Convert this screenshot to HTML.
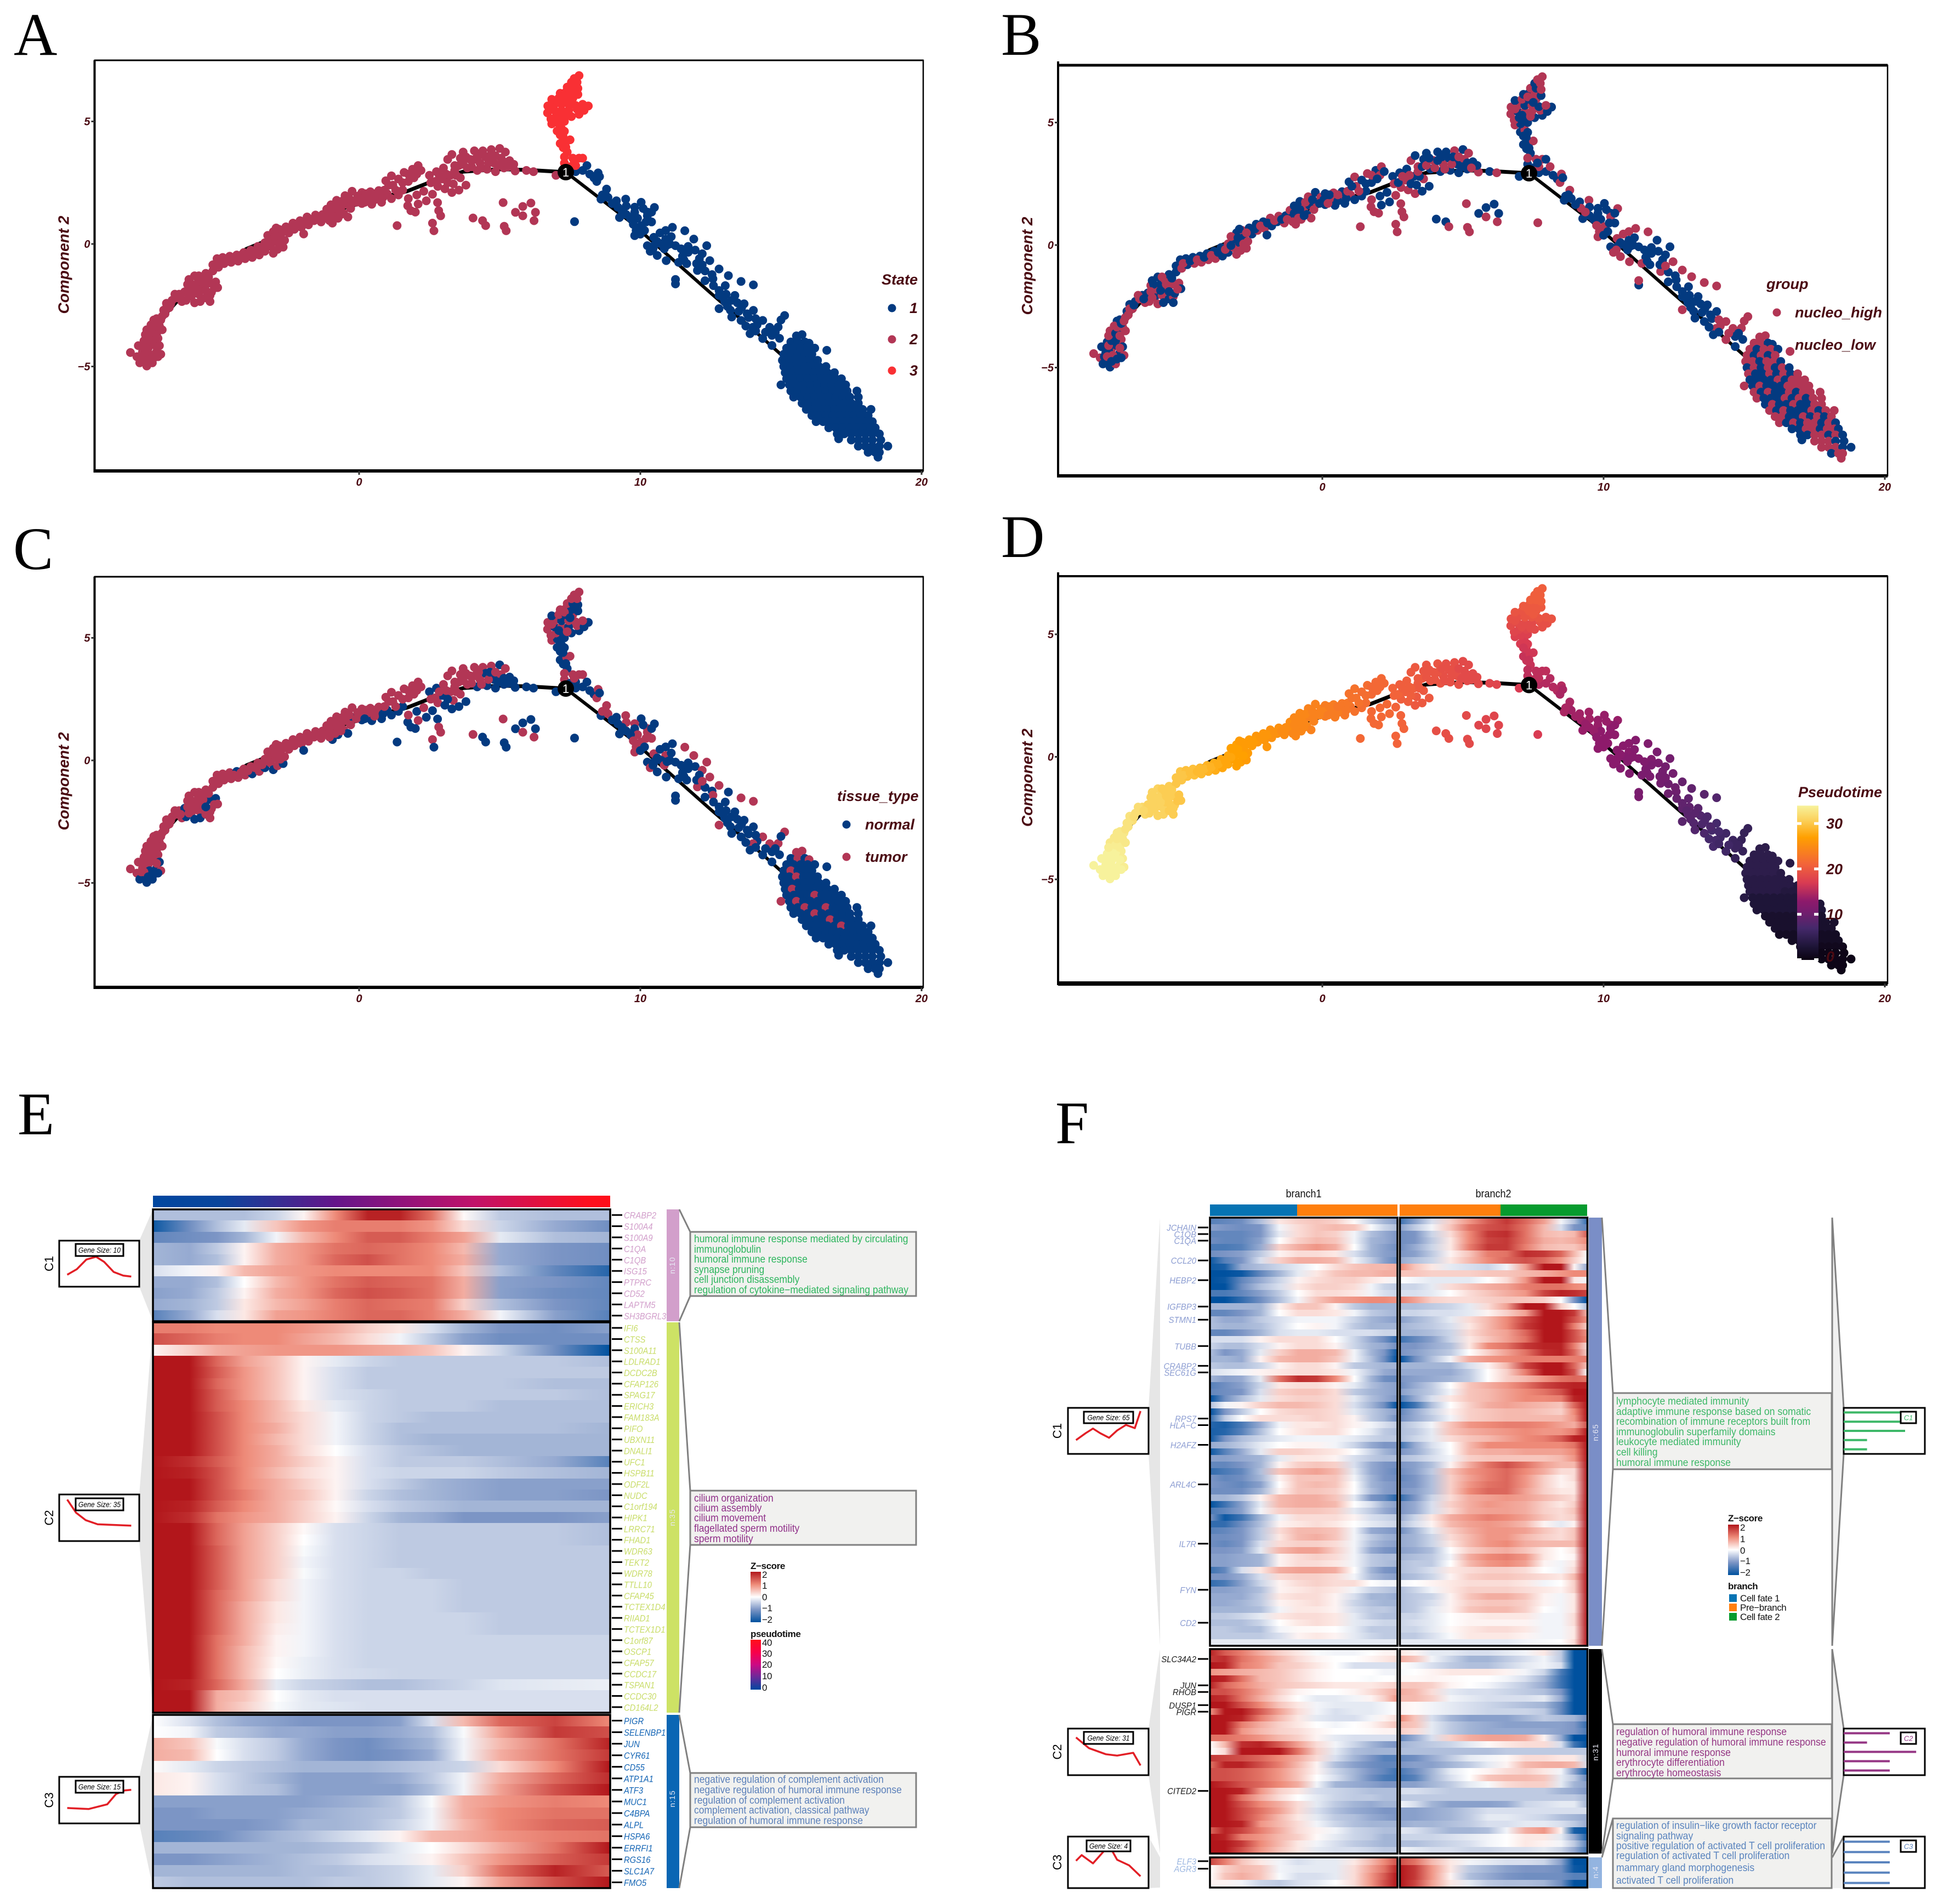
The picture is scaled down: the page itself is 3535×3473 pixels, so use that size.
<!DOCTYPE html>
<html lang="en">
<head>
<meta charset="utf-8">
<title>Trajectory and heatmap figure</title>
<style>
html,body{margin:0;padding:0;background:#fff}
svg{display:block}
text{font-family:"Liberation Sans",sans-serif}
.letter{font-family:"Liberation Serif",serif;font-size:110px;fill:#000}
.axt{font-weight:bold;font-style:italic;font-size:28px;fill:#4a0a12;text-anchor:middle}
.leg{font-weight:bold;font-style:italic;font-size:27px;fill:#4a0a12}
.ann{font-size:19px}
.small{font-size:17px;fill:#111;letter-spacing:-.4px}
.smallb{font-size:17px;fill:#111;font-weight:bold;letter-spacing:-.4px}
.nlab{font-size:14px;fill:#e8e8f4;text-anchor:middle;letter-spacing:1px}
.gray{fill:none;stroke:#808080;stroke-width:3}
.box{fill:#f1f1ef;stroke:#808080;stroke-width:3}
</style>
</head>
<body>
<svg id="figure" xmlns="http://www.w3.org/2000/svg" width="3535" height="3473" viewBox="0 0 3535 3473">
<defs>
<linearGradient id="pseudoTop" x1="0" x2="1" y1="0" y2="0"><stop offset="0" stop-color="#0047a0"/><stop offset=".15" stop-color="#0a459c"/><stop offset=".4" stop-color="#65148a"/><stop offset=".7" stop-color="#c0126a"/><stop offset=".95" stop-color="#fd0f1e"/><stop offset="1" stop-color="#ff0f1a"/></linearGradient>
<linearGradient id="pseudoVert" x1="0" x2="0" y1="0" y2="1"><stop offset="0" stop-color="#ff0f1a"/><stop offset=".25" stop-color="#f8004a"/><stop offset=".5" stop-color="#cc0a84"/><stop offset=".75" stop-color="#6a2a9a"/><stop offset="1" stop-color="#0047a0"/></linearGradient>
<linearGradient id="zVert" x1="0" x2="0" y1="0" y2="1"><stop offset="0" stop-color="#b2161b"/><stop offset=".25" stop-color="#ee8a78"/><stop offset=".5" stop-color="#ffffff"/><stop offset=".75" stop-color="#7c95c5"/><stop offset="1" stop-color="#00519f"/></linearGradient>
</defs>
<rect width="3535" height="3473" fill="#fff"/>

<text class="letter" x="25" y="100">A</text>
<text class="letter" x="1826" y="100">B</text>
<text class="letter" x="24" y="1038">C</text>
<text class="letter" x="1826" y="1016">D</text>
<text class="letter" x="32" y="2069">E</text>
<text class="letter" x="1925" y="2085">F</text>

<g id="scatterLayer"></g>

<g>
<text class="leg" x="1608" y="519">State</text>
<circle cx="1627" cy="562" r="7.5" fill="#033a80"/><text class="leg" x="1659" y="571">1</text>
<circle cx="1627" cy="619" r="7.5" fill="#b23655"/><text class="leg" x="1659" y="628">2</text>
<circle cx="1627" cy="676" r="7.5" fill="#f93034"/><text class="leg" x="1659" y="685">3</text>
</g>
<g>
<text class="leg" x="3222" y="527">group</text>
<circle cx="3241" cy="570" r="7.5" fill="#b23655"/><text class="leg" x="3274" y="579">nucleo_high</text>
<text class="leg" x="3274" y="638">nucleo_low</text>
</g>
<g>
<text class="leg" x="1527" y="1461">tissue_type</text>
<circle cx="1544" cy="1504" r="7.5" fill="#033a80"/><text class="leg" x="1578" y="1513">normal</text>
<circle cx="1544" cy="1563" r="7.5" fill="#b23655"/><text class="leg" x="1578" y="1572">tumor</text>
</g>
<g id="pseudoLegend">
<text class="leg" x="3280" y="1454">Pseudotime</text>
</g>

<g id="heatE">
<rect x="279" y="2181" width="834" height="21" fill="url(#pseudoTop)"/>
<polygon points="254,2263 279,2206 279,2410 254,2347" fill="#e6e6e6"/>
<polygon points="254,2726 279,2412 279,3124 254,2811" fill="#e6e6e6"/>
<polygon points="254,3241 279,3128 279,3444 254,3326" fill="#e6e6e6"/>
<rect x="1216" y="2206" width="23" height="204" fill="#d29fcb"/>
<rect x="1216" y="2412" width="23" height="712" fill="#cde265"/>
<rect x="1216" y="3128" width="23" height="316" fill="#0a66b4"/>
<text class="nlab" transform="translate(1231,2308) rotate(-90)">n:10</text>
<text class="nlab" transform="translate(1231,2768) rotate(-90)">n:35</text>
<text class="nlab" transform="translate(1231,3281) rotate(-90)">n:15</text>
<path class="gray" d="M1239,2206L1259,2247M1239,2410L1259,2364"/>
<path class="gray" d="M1239,2412L1259,2719M1239,3124L1259,2818"/>
<path class="gray" d="M1239,3128L1259,3234M1239,3444L1259,3333"/>
<rect class="box" x="1259" y="2247" width="412" height="117"/>
<rect class="box" x="1259" y="2719" width="412" height="99"/>
<rect class="box" x="1259" y="3234" width="412" height="99"/>
<g class="ann" fill="#2db55d">
<text transform="translate(1266,2266) scale(.92,1)">humoral immune response mediated by circulating</text>
<text transform="translate(1266,2285) scale(.92,1)">immunoglobulin</text>
<text transform="translate(1266,2303) scale(.92,1)">humoral immune response</text>
<text transform="translate(1266,2322) scale(.92,1)">synapse pruning</text>
<text transform="translate(1266,2340) scale(.92,1)">cell junction disassembly</text>
<text transform="translate(1266,2359) scale(.92,1)">regulation of cytokine−mediated signaling pathway</text>
</g>
<g class="ann" fill="#8f2f88">
<text transform="translate(1266,2739) scale(.92,1)">cilium organization</text>
<text transform="translate(1266,2757) scale(.92,1)">cilium assembly</text>
<text transform="translate(1266,2775) scale(.92,1)">cilium movement</text>
<text transform="translate(1266,2794) scale(.92,1)">flagellated sperm motility</text>
<text transform="translate(1266,2813) scale(.92,1)">sperm motility</text>
</g>
<g class="ann" fill="#5b80ba">
<text transform="translate(1266,3252) scale(.92,1)">negative regulation of complement activation</text>
<text transform="translate(1266,3271) scale(.92,1)">negative regulation of humoral immune response</text>
<text transform="translate(1266,3290) scale(.92,1)">regulation of complement activation</text>
<text transform="translate(1266,3308) scale(.92,1)">complement activation, classical pathway</text>
<text transform="translate(1266,3327) scale(.92,1)">regulation of humoral immune response</text>
</g>
<g>
<text class="smallb" x="1369" y="2862">Z−score</text>
<rect x="1369" y="2867" width="19" height="92" fill="url(#zVert)"/>
<text class="small" x="1390" y="2878">2</text>
<text class="small" x="1390" y="2898">1</text>
<text class="small" x="1390" y="2919">0</text>
<text class="small" x="1390" y="2939">−1</text>
<text class="small" x="1390" y="2960">−2</text>
<text class="smallb" x="1369" y="2986">pseudotime</text>
<rect x="1369" y="2991" width="19" height="91" fill="url(#pseudoVert)"/>
<text class="small" x="1390" y="3002">40</text>
<text class="small" x="1390" y="3022">30</text>
<text class="small" x="1390" y="3042">20</text>
<text class="small" x="1390" y="3063">10</text>
<text class="small" x="1390" y="3084">0</text>
</g>
</g>

<g id="heatF">
<text transform="translate(2378,2184) scale(.9,1)" font-size="20" fill="#111" text-anchor="middle">branch1</text>
<text transform="translate(2724,2184) scale(.9,1)" font-size="20" fill="#111" text-anchor="middle">branch2</text>
<rect x="2207" y="2197" width="159" height="21" fill="#0673b3"/>
<rect x="2366" y="2197" width="183" height="21" fill="#ff7f0e"/>
<rect x="2553" y="2197" width="184" height="21" fill="#ff7f0e"/>
<rect x="2737" y="2197" width="158" height="21" fill="#079b2e"/>
<polygon points="2095,2568 2116,2221 2116,3002 2095,2652" fill="#e6e6e6"/>
<polygon points="2095,3153 2116,3008 2116,3381 2095,3238" fill="#e6e6e6"/>
<polygon points="2095,3350 2116,3388 2116,3443 2095,3444" fill="#e6e6e6"/>
<rect x="2898" y="2221" width="24" height="781" fill="#7a8ec7"/>
<rect x="2898" y="3008" width="24" height="373" fill="#000"/>
<rect x="2898" y="3388" width="24" height="56" fill="#93b4e0"/>
<text class="nlab" transform="translate(2915,2613) rotate(-90)">n:65</text>
<text class="nlab" transform="translate(2915,3196) rotate(-90)">n:31</text>
<text class="nlab" transform="translate(2915,3415) rotate(-90)">n:4</text>
<polygon points="3342,2221 3363,2568 3363,2652 3342,3002" fill="#f0f0f0"/>
<polygon points="3342,3008 3363,3153 3363,3238 3342,3381" fill="#f0f0f0"/>
<polygon points="3342,3388 3363,3350 3363,3444 3342,3444" fill="#f0f0f0"/>
<path class="gray" d="M2922,2221L2942,2541M2922,3002L2942,2680M3342,2221L3342,3002M3342,2221L3363,2568M3342,3002L3363,2652"/>
<path class="gray" d="M2922,3008L2942,3145M2922,3381L2942,3244M3342,3008L3342,3381M3342,3008L3363,3153M3342,3381L3363,3238"/>
<path class="gray" d="M2922,3388L2942,3317M3342,3388L3363,3350"/>
<rect class="box" x="2942" y="2541" width="399" height="139"/>
<rect class="box" x="2942" y="3145" width="399" height="99"/>
<rect class="box" x="2942" y="3317" width="399" height="127"/>
<g class="ann" fill="#3db868">
<text transform="translate(2948,2562) scale(.93,1)">lymphocyte mediated immunity</text>
<text transform="translate(2948,2581) scale(.93,1)">adaptive immune response based on somatic</text>
<text transform="translate(2948,2599) scale(.93,1)">recombination of immune receptors built from</text>
<text transform="translate(2948,2618) scale(.93,1)">immunoglobulin superfamily domains</text>
<text transform="translate(2948,2636) scale(.93,1)">leukocyte mediated immunity</text>
<text transform="translate(2948,2655) scale(.93,1)">cell killing</text>
<text transform="translate(2948,2674) scale(.93,1)">humoral immune response</text>
</g>
<g class="ann" fill="#953684">
<text transform="translate(2948,3165) scale(.93,1)">regulation of humoral immune response</text>
<text transform="translate(2948,3184) scale(.93,1)">negative regulation of humoral immune response</text>
<text transform="translate(2948,3203) scale(.93,1)">humoral immune response</text>
<text transform="translate(2948,3221) scale(.93,1)">erythrocyte differentiation</text>
<text transform="translate(2948,3240) scale(.93,1)">erythrocyte homeostasis</text>
</g>
<g class="ann" fill="#5a84be">
<text transform="translate(2948,3336) scale(.93,1)">regulation of insulin−like growth factor receptor</text>
<text transform="translate(2948,3355) scale(.93,1)">signaling pathway</text>
<text transform="translate(2948,3373) scale(.93,1)">positive regulation of activated T cell proliferation</text>
<text transform="translate(2948,3391) scale(.93,1)">regulation of activated T cell proliferation</text>
<text transform="translate(2948,3413) scale(.93,1)">mammary gland morphogenesis</text>
<text transform="translate(2948,3436) scale(.93,1)">activated T cell proliferation</text>
</g>
<g>
<text class="smallb" x="3152" y="2775">Z−score</text>
<rect x="3152" y="2781" width="20" height="92" fill="url(#zVert)"/>
<text class="small" x="3174" y="2792">2</text>
<text class="small" x="3174" y="2813">1</text>
<text class="small" x="3174" y="2834">0</text>
<text class="small" x="3174" y="2853">−1</text>
<text class="small" x="3174" y="2874">−2</text>
<text class="smallb" x="3152" y="2899">branch</text>
<rect x="3154" y="2908" width="14" height="14" fill="#0673b3"/>
<text class="small" x="3174" y="2921">Cell fate 1</text>
<rect x="3154" y="2925" width="14" height="14" fill="#ff7f0e"/>
<text class="small" x="3174" y="2938">Pre−branch</text>
<rect x="3154" y="2942" width="14" height="14" fill="#079b2e"/>
<text class="small" x="3174" y="2955">Cell fate 2</text>
</g>
</g>
<g id="miniLayer"></g>
</svg>

<script>
/* ---------- trajectory data: [component1, component2, pseudotime, group(0 high,1 low), tissue(0 normal,1 tumor)] ---------- */
const state2Cells = [
[-8.13,-4.43,34,0,1],[-7.9,-4.6,34,0,1],[-7.85,-4.15,34,1,1],[-7.8,-4.85,34,1,0],[-7.7,-4.4,34,1,1],[-7.65,-3.95,34,1,1],[-7.6,-4.7,34,1,0],[-7.55,-4.98,34,1,0],[-7.5,-4.25,34,0,1],[-7.45,-3.7,33.5,0,1],[-7.4,-4.55,34,1,0],[-7.35,-4.85,34,0,0],[-7.3,-4.1,34,1,1],[-7.25,-3.5,33.5,1,1],[-7.2,-4.4,34,1,0],[-7.15,-3.85,33.5,0,1],[-7.1,-4.15,33.5,1,0],[-7.05,-4.5,33.5,0,1],[-7.1,-3.35,33,0,1],[-7.3,-3.1,33,1,1],[-7.55,-3.5,33,0,1],[-7.4,-3.3,33,0,1],[-7.2,-3.05,33,1,1],
[-7.75,-4.55,34,1,1],[-7.6,-4.3,34,1,1],[-7.45,-4.5,34,0,0],[-7.45,-4.05,34,1,1],[-7.6,-4.1,34,0,1],[-7.35,-3.9,34,1,1],[-7.5,-3.9,34,1,1],[-7.3,-4.65,34,1,0],[-7.15,-4.6,34,1,0],[-7.6,-3.7,33.5,0,1],[-7.35,-3.6,33.5,1,1],[-7.2,-3.7,33.5,0,1],[-7.3,-3.35,33,0,1],[-7.15,-3.2,33,1,1],[-7.05,-3.1,33,0,1],[-7,-3.5,33,0,1],[-7.65,-4.55,34,0,1],[-7.5,-4.75,34,1,0],[-7.2,-4.2,34,0,1],
[-7.0,-2.95,32.5,0,1],[-6.95,-2.7,32.5,1,1],[-6.85,-2.42,32.5,1,1],[-6.75,-2.6,32,0,1],[-6.65,-2.3,32,1,1],[-6.5,-2.2,32,0,1],[-6.4,-2.05,31.5,1,1],[-6.3,-2.35,31.5,0,1],[-6.2,-1.95,31,1,0],[-6.15,-2.3,31,0,0],[-6.1,-1.65,31,0,1],[-6.05,-1.45,31,1,1],[-5.95,-2.1,31,1,1],[-5.9,-1.8,31,0,1],[-5.85,-2.4,31,0,0],[-5.85,-1.3,31,1,1],[-5.75,-1.6,31,1,1],[-5.7,-2.05,31,0,1],[-5.65,-2.35,31,1,0],[-5.6,-1.4,30.5,0,1],[-5.55,-1.85,30.5,0,1],[-5.45,-2.2,30.5,1,1],[-5.45,-1.2,30.5,1,1],[-5.35,-1.6,30.5,0,0],[-5.3,-2.1,30.5,0,1],[-5.3,-2.35,30.5,1,1],[-5.25,-1.97,30.5,1,1],[-5.2,-1.1,30,1,1],[-5.1,-1.55,30,0,0],[-5.03,-1.78,30,1,1],[-5.2,-.85,30,1,1],
[-6.9,-2.85,32.5,0,1],[-6.85,-2.6,32.5,0,1],[-6.7,-2.45,32,1,1],[-6.55,-2.05,32,0,1],[-6.35,-2.2,31.5,1,1],[-6.05,-2.15,31,0,1],[-6,-1.6,31,1,1],[-6.1,-1.9,31,0,1],[-5.75,-1.85,31,1,1],[-5.55,-1.6,30.5,0,1],[-5.45,-1.9,30.5,1,0],[-5.7,-1.3,30.5,0,1],[-5.35,-1.35,30.5,1,1],[-5.15,-1.8,30,0,1],
[-5.05,-.6,30,1,1],[-5.0,-.95,30,0,1],[-4.85,-.55,29.5,1,1],[-4.8,-.8,29.5,1,1],[-4.6,-.5,29.5,1,1],[-4.55,-.75,29.5,0,1],[-4.35,-.45,29,1,0],[-4.3,-.7,29,0,1],[-4.1,-.35,28.5,1,1],[-4.05,-.6,28.5,0,1],[-3.85,-.25,28,1,1],[-3.8,-.55,28,0,0],[-3.6,-.1,27.5,1,1],[-3.55,-.45,27.5,1,1],[-3.35,.05,27.5,0,1],[-3.35,-.3,27.5,1,0],[-3.15,.2,27,1,1],[-3.15,-.1,27,0,1],[-3.05,-.38,27,0,0],[-3.05,.5,27,1,1],[-2.95,.1,27,1,1],[-2.9,-.22,27,0,1],[-2.85,.6,26.5,0,1],[-2.8,.3,26.5,1,1],[-2.7,-.13,26.5,0,0],[-2.65,.15,26.5,0,1],[-2.6,.7,26.5,1,1],[-2.5,.45,26.5,1,1],[-2.35,.85,26,1,1],[-2.3,.6,26,0,1],[-2.1,.95,26,1,1],[-2.05,.68,26,0,1],[-1.97,.41,26,1,0],[-1.85,1.1,25.5,0,1],[-1.8,.78,25.5,1,1],[-1.6,.95,25.5,1,1],[-1.55,1.18,25.5,0,1],[-1.35,.9,25,0,1],[-1.3,1.2,25,1,1],[-1.15,1.42,25,0,1],[-1.1,1.1,25,1,1],[-1,1.6,24.5,1,1],[-.95,.85,24.5,0,0],[-.9,1.3,24.5,0,1],[-.8,1.78,24.5,1,1],[-.75,1.05,24.5,0,0],[-.65,1.5,24.5,0,1],[-.55,1.25,24.5,1,1],[-.5,1.97,24,0,1],[-.45,1.62,24,1,1],[-.4,1.1,24,0,0],[-.25,2.15,24,1,1],[-.2,1.75,24,0,0],[-.05,1.95,24,0,1],[.1,2.1,23.5,1,1],[.1,1.65,23.5,1,0],[.3,1.85,23.5,0,1],[.4,2.13,23.5,0,1],[.45,1.62,23.5,1,0],[.65,1.95,23,0,1],[.7,2.18,23,1,1],[.8,1.7,23,1,0],[.95,2.58,22.5,1,1],[1,2.05,22.5,0,0],[1.15,2.78,22.5,0,1],[1.15,1.85,22.5,1,0],[1.2,2.4,22.5,0,1],[1.4,2.65,22,1,1],[1.4,2.0,22,1,0],[1.6,2.92,22,0,1],[1.55,2.2,22,1,0],[1.75,2.55,21.5,1,1],[1.9,3.05,21.5,1,1],[2.05,2.85,21.5,0,1],[2.1,3.2,21.5,0,1],
[-4.95,-.75,30,0,1],[-4.7,-.65,29.5,1,1],[-4.45,-.6,29,0,1],[-4.2,-.5,29,1,1],[-3.95,-.42,28.5,0,1],[-3.7,-.3,28,1,1],[-3.45,-.18,27.5,0,1],[-3.25,-.02,27.5,1,1],[-3.25,.35,27,0,1],[-3,.3,27,1,1],[-2.8,.05,27,0,1],[-2.95,.65,26.5,1,1],[-2.7,.5,26.5,0,1],[-2.4,.65,26.5,1,1],[-2.2,.78,26,0,1],[-1.95,.9,26,1,1],[-1.7,1,25.5,0,1],[-1.45,1.05,25,1,1],[-1.25,1.05,25,0,1],[-1,1.3,24.5,1,1],[-1.05,.95,24.5,0,1],[-.8,1.45,24.5,1,1],[-.85,1.1,24.5,0,1],[-.6,1.75,24.5,0,1],[-.65,1.2,24.5,1,1],[-.35,1.85,24,1,1],[-.3,1.45,24,0,1],[-.1,1.7,24,1,1],[.05,1.85,24,1,1],[.2,1.7,23.5,0,0],[.25,2.05,23.5,1,1],[.55,1.8,23.5,1,1],[.55,2.05,23,0,1],[.85,1.9,23,1,0],[.9,2.2,23,0,1],[1.05,2.4,22.5,1,1],[1.3,2.2,22.5,0,1],[1.55,2.5,22,1,1],[1.75,2.85,21.5,0,1],[1.95,2.7,21.5,1,1],[2.2,3,21.5,1,1],
[1.84,1.36,21.5,0,0],[1.73,1.56,21.5,0,0],[2.1,1.63,21.5,1,1],[2.39,1.76,21.5,1,0],[2.61,2.03,21,0,0],[1.75,1.85,21.5,0,1],[2.05,2.0,21.5,1,0],[2.3,2.15,21.5,1,1],[2.0,1.3,21.5,0,0],[2.79,1.69,21,0,0],[2.83,1.36,21,0,1],[2.9,1.15,21,0,1],[2.61,.85,21,0,1],[2.66,.54,21,0,0],[1.35,.75,21.5,0,0],
[2.5,2.8,21,1,0],[2.55,2.5,21,0,1],[2.75,2.95,20.5,1,0],[2.8,2.35,20.5,0,1],[2.95,2.65,20.5,0,0],[3.0,3.1,20.5,1,1],[3.05,2.25,20.5,0,0],[3.25,2.8,20.5,1,1],[3.3,2.1,20,0,0],[3.35,2.45,20,1,1],[3.55,2.2,20,1,0],[3.6,2.7,20,0,1],[3.8,2.4,20,1,0],[3.15,3.45,20,0,1],[3.3,3.65,20,1,1],[3.4,3.2,20,0,1],[3.6,3.5,19.5,1,1],[3.7,3.75,19.5,1,1],[3.85,3.1,19.5,1,1],[3.95,3.45,19.5,0,1],[4.1,3.8,19.5,1,1],[4.2,3.0,19.5,1,0],[4.3,3.3,19,0,1],[4.4,3.8,19,1,1],[4.5,3.55,19,1,0],[4.55,3.05,19,1,0],[4.7,3.85,19,0,1],[4.8,3.3,19,1,0],[4.85,2.95,19,1,0],[5.0,3.9,18.5,1,0],[5.05,3.5,18.5,0,1],[5.15,3.1,18.5,1,0],[5.2,3.75,18.5,0,1],[5.35,3.4,18.5,1,0],[5.45,3.15,18.5,1,0],[5.55,2.98,18.5,0,0],[5.5,3.25,18.5,1,0],[5.95,3.0,18,1,0],[6.2,2.95,18,0,0],
[2.7,2.55,21,1,1],[2.85,2.8,20.5,0,1],[3.15,2.5,20.5,1,0],[3.1,2.85,20.5,0,1],[3.45,2.8,20,1,1],[3.4,3.0,20,0,1],[3.55,3.2,20,1,1],[3.7,3.25,19.5,0,1],[3.8,3.55,19.5,1,1],[4,3.15,19.5,0,1],[4.1,3.45,19.5,1,1],[4.25,3.6,19,1,1],[4.35,3.1,19,0,1],[4.6,3.3,19,0,1],[4.65,3.6,19,1,0],[4.85,3.6,18.5,0,1],[4.95,3.2,18.5,1,0],[5.15,3.35,18.5,1,0],[5.3,3.15,18.5,0,0],
[5.12,1.69,18.5,0,1],[4.39,.95,19,1,0],[4.5,.75,19,0,0],[4.05,1.06,19,1,1],[5.16,.72,18.5,0,0],[5.23,.54,18.5,0,0],[5.56,1.29,18,1,0],[5.82,1.53,18,1,0],[6.11,1.67,18,1,0],[6.27,1.29,18,1,0],[5.82,1.15,18,0,1],[6.22,.95,18,0,1],[7.0,2.8,17,1,0]
];
const state3Cells = [
[7.3,3.3,15.5,1,1],[7.5,3.15,15.5,1,0],[7.7,3.2,15.5,0,0],[7.82,3.5,15.5,0,1],[7.6,3.5,15.5,0,1],[7.95,3.5,15.5,1,1],
[7.26,3.93,16,1,0],[7.15,4.1,16,1,0],[7.38,4.2,16.5,1,1],[7.5,4.25,16.5,0,1],[7.25,4.4,16.5,1,0],[7.04,4.61,17,1,0],[7.2,4.7,17,0,0],[7.3,4.6,17,1,0],[6.85,4.9,17.5,0,1],[7.05,4.95,17.5,1,0],[7.3,5,17.5,1,0],[6.82,5.1,18,0,1],[7.0,5.2,18,1,1],[7.25,5.2,18,1,0],[7.55,5.2,18.5,1,0],[6.7,5.35,18.5,0,1],[6.95,5.45,18.5,1,0],[7.2,5.45,18.5,0,1],[7.45,5.45,18.5,0,0],[7.82,5.29,19,1,0],[7.75,5.5,19,0,1],[8.0,5.45,19,1,0],[6.71,5.63,19,0,1],[6.95,5.7,19,0,1],[7.2,5.7,19.5,1,0],[7.45,5.7,19.5,0,1],[7.7,5.65,19.5,1,1],[8.15,5.63,19.5,1,0],[7.95,5.7,19.5,0,1],[6.85,5.9,19.5,1,0],[7.1,5.95,19.5,0,1],[7.35,5.95,20,1,0],[7.6,5.95,20,0,1],[7.15,6.15,20,1,1],[7.35,6.2,20,1,1],[7.55,6.15,20,0,0],[7.78,6.1,20,1,0],[7.4,6.4,20.5,0,1],[7.6,6.4,20.5,1,0],[7.78,6.35,20.5,0,0],[7.55,6.6,20.5,1,1],[7.75,6.6,20.5,0,1],[7.82,6.87,20.5,0,1],
[7.65,6.75,20.5,0,1],[7.3,6.05,20,0,1],[7.5,5.82,20,1,0],[6.85,5.55,19,0,1],[7.1,5.3,18.5,1,0],[7.4,5.25,18.5,0,1],[7.15,4.45,16.5,1,0],[7.35,3.95,16,1,0],[7.4,3.75,16,1,0],[7.3,3.55,15.5,0,1],[7.65,3.35,15.5,1,1]
];
const state1Cells = [
[7.66,.91,17,0,0],[7.7,2.95,15,1,0],[7.95,3.0,15,1,0],[8.1,3.2,15,0,0],[8.2,2.85,15,1,0],[8.35,2.7,15,1,0],[8.5,2.9,15,0,1],[8.45,2.55,14.5,0,1],[8.55,2.75,14.5,1,0],[8.8,2.24,14.5,0,1],[8.75,2.05,14.5,1,1],[8.6,1.83,14.5,1,0],[8.85,1.9,14,1,1],[9.15,1.76,14,1,0],[9.48,1.83,14,0,1],[9.2,1.5,14,0,0],[9.5,1.55,14,1,1],[10.03,1.7,13.5,1,0],[9.8,1.5,13.5,1,1],[10.5,1.49,13.5,0,0],[9.8,1.29,13.5,1,0],[10.25,1.3,13.5,1,1],[9.26,1.08,13.5,1,0],[9.5,1.2,13.5,1,0],[10.25,1.15,13,0,1],[10.4,1.3,13,1,0],[9.9,1.05,13,1,1],[10.03,.75,13,0,1],[10.2,.9,13,1,1],[9.85,.55,13,0,1],[9.8,.34,13,0,1],[10,.4,13,1,0],[10.48,.27,12.5,0,1],[10.7,.45,12.5,0,0],[10.9,.55,12.5,0,0],[11.14,.68,12,0,0],[10.9,.2,12.5,1,1],[11.1,.3,12,1,0],[11.58,.54,11.5,0,1],[10.25,-.07,12.5,1,0],[10.5,-.05,12.5,1,0],[10.75,0,12,1,0],[11.05,.0,12,1,0],[10.35,-.3,12.5,0,1],[10.6,-.47,12,0,0],[10.85,-.2,12,1,1],[11.25,-.07,12,1,0],[11.9,.2,11,1,1],[11.7,-.1,11.5,1,0],[12.36,-.07,10.5,1,1],[11.7,-.34,11,1,0],[11.95,-.25,11,1,0],[11.5,-.5,11,1,0],[11.36,-.75,11,0,0],[10.92,-.68,11.5,0,0],[12.2,-.4,10.5,1,1],[12.47,-.68,10.5,0,1],[11.65,-.8,11,1,0],[12.03,-1.08,10.5,0,1],[12.0,-.8,10.5,1,0],[12.3,-1.1,10,1,0],[12.8,-1.02,9.5,0,1],[12.55,-1.25,10,1,0],[13.13,-1.29,9,0,0],[13.58,-1.53,8.5,0,1],[14.02,-1.67,8,0,1],[11.25,-1.63,11,1,0],[11.25,-1.45,11,0,0],[12.58,-1.42,10,1,1],[13.02,-1.7,9,1,0],[12.3,-1.5,10,1,0],[12.8,-1.9,9,1,0],[12.8,-2.1,9,1,0],[13.05,-2.05,9,1,0],[13.36,-2.1,8.5,1,0],[13,-2.35,8.5,1,0],[12.8,-2.64,8.5,0,1],[13.1,-2.55,8.5,1,0],[13.25,-2.98,8,1,0],[13.45,-2.4,8,1,0],[13.69,-2.44,7.5,1,0],[13.5,-2.75,7.5,1,0],[14.02,-2.71,7,1,0],[13.85,-3.0,7,1,0],[13.58,-3.12,7.5,1,0],[14.35,-3.12,6.5,0,1],[14.15,-3.3,6.5,0,0],[14.0,-3.4,7,0,1],[13.9,-3.66,7,1,0],[14.1,-3.55,6.5,1,0],[14.35,-3.86,6.5,0,0],[14.6,-3.4,6,0,1],[14.9,-3.39,5.5,0,1],[15.13,-2.92,5.5,0,1],[15,-3.1,5.5,0,0],[14.68,-3.73,6,1,0],[14.68,-4.14,5.5,1,0],[14.95,-3.85,5.5,1,0],
[8.65,2.0,14.5,1,1],[9.0,1.65,14,1,0],[9.35,1.35,13.5,0,0],[9.65,1.05,13.5,1,0],[9.75,.8,13,0,1],[10.1,1.45,13.5,1,0],[10.4,.9,13,1,1],[10.15,.55,13,1,0],[10.6,.1,12.5,1,0],[10.45,-.2,12.5,0,0],[10.95,-.05,12,1,0],[11.45,-.2,11.5,1,0],[11.55,-.65,11,1,0],[12.1,-.6,10.5,1,0],[12.2,-.85,10.5,0,1],[12.6,-1.7,9.5,1,0],[12.95,-2.2,8.5,1,0],[13.25,-2.3,8.5,1,0],[13.2,-2.7,8,1,0],[13.6,-2.6,7.5,1,0],[13.8,-2.85,7.5,1,0],[14.1,-3.05,7,0,0],[13.75,-3.35,7,1,0],[14.45,-3.6,6.5,0,0],[14.8,-3.6,6,1,0],
[15.55,-3.75,4.5,0,1],[15.75,-3.7,4.5,0,1],[15.35,-4,4.5,0,0],[15.6,-4,4.5,0,1],[15.85,-4,4.5,1,0],[16,-4.05,4.5,1,1],[15.2,-4.25,4.5,0,0],[15.45,-4.25,4.5,1,0],[15.7,-4.25,4.5,0,0],[15.95,-4.25,4.5,0,0],[16.2,-4.25,4.5,1,0],[15.1,-4.5,4.5,0,0],[15.35,-4.5,4.5,1,1],[15.6,-4.5,4.5,0,0],[15.85,-4.5,4.5,1,0],[16.1,-4.5,4.5,0,0],[16.63,-4.34,4,0,0],
[15.05,-4.75,4.5,0,0],[15.3,-4.75,4.5,0,0],[15.55,-4.75,4.5,1,1],[15.8,-4.75,4.5,0,0],[16.05,-4.75,4.5,0,0],[16.3,-4.75,4,1,0],[15.1,-5,4,1,0],[15.35,-5,4,0,0],[15.6,-5,4,1,0],[15.85,-5,4,0,0],[16.1,-5,4,1,0],[16.35,-5,4,0,0],[16.6,-5,4,1,0],[15.15,-5.25,4,0,0],[15.4,-5.25,4,1,1],[15.65,-5.25,4,1,0],[15.9,-5.25,4,0,0],[16.15,-5.25,4,1,0],[16.4,-5.25,4,0,0],[16.65,-5.25,4,1,0],[16.9,-5.25,3.5,0,0],
[15.2,-5.5,4,1,0],[15.45,-5.5,4,1,0],[15.7,-5.5,4,1,0],[15.95,-5.5,4,1,0],[16.2,-5.5,4,0,1],[16.45,-5.5,3.5,1,0],[16.7,-5.5,3.5,0,0],[16.95,-5.5,3.5,0,0],[17.15,-5.5,3.5,0,0],[15,-5.75,4,0,1],[15.3,-5.75,3,1,0],[15.55,-5.75,3,0,1],[15.8,-5.75,3,1,0],[16.05,-5.75,3,1,0],[16.3,-5.75,3,1,0],[16.55,-5.75,3,0,0],[16.8,-5.75,3,0,0],[17.05,-5.75,3,0,0],[17.3,-5.75,3,0,0],
[15.35,-6,3,0,0],[15.6,-6,3,1,0],[15.85,-6,3,0,1],[16.1,-6,3,1,0],[16.35,-6,3,1,0],[16.6,-6,3,0,1],[16.85,-6,3,1,0],[17.1,-6,3,0,0],[17.35,-6,3,0,0],[17.7,-6,3,0,0],[15.45,-6.25,3,0,0],[15.7,-6.25,3,1,0],[15.95,-6.25,3,1,0],[16.2,-6.25,3,1,1],[16.45,-6.25,3,0,0],[16.7,-6.25,3,1,0],[16.95,-6.25,3,0,0],[17.2,-6.25,3,1,0],[17.45,-6.25,3,0,0],[17.75,-6.25,3,0,0],
[15.75,-6.5,2.2,1,0],[16,-6.5,2.2,0,0],[16.25,-6.5,2.2,1,0],[16.5,-6.5,2.2,1,0],[16.75,-6.5,2.2,0,1],[17,-6.5,2.2,1,0],[17.25,-6.5,2.2,1,0],[17.5,-6.5,2.2,0,0],[17.75,-6.5,2.2,0,0],[15.9,-6.75,2.2,0,0],[16.15,-6.75,2.2,1,0],[16.4,-6.75,2.2,0,0],[16.65,-6.75,2.2,1,0],[16.9,-6.75,2.2,1,0],[17.15,-6.75,2.2,1,1],[17.4,-6.75,2.2,0,0],[17.65,-6.75,2.2,1,0],[17.9,-6.75,2.2,0,0],[18.2,-6.75,2.2,0,0],
[16.1,-7,2.2,0,0],[16.35,-7,2.2,0,0],[16.6,-7,2.2,1,0],[16.85,-7,2.2,1,0],[17.1,-7,2.2,0,0],[17.35,-7,2.2,1,0],[17.6,-7,2.2,0,0],[17.85,-7,2.2,1,0],[18.1,-7,2.2,0,0],[16.25,-7.25,1.5,0,0],[16.5,-7.25,1.5,1,0],[16.75,-7.25,1.5,0,0],[17,-7.25,1.5,1,0],[17.25,-7.25,1.5,0,0],[17.5,-7.25,1.5,0,0],[17.75,-7.25,1.5,1,0],[18,-7.25,1.5,0,0],[18.25,-7.25,1.5,1,0],
[16.7,-7.5,1.5,1,0],[16.95,-7.5,1.5,1,0],[17.2,-7.5,1.5,0,0],[17.45,-7.5,1.5,0,0],[17.7,-7.5,1.5,1,0],[17.95,-7.5,1.5,0,0],[18.2,-7.5,1.5,0,0],[18.35,-7.5,1.5,1,0],[17,-7.75,1,1,0],[17.25,-7.75,1,1,0],[17.5,-7.75,1,0,0],[17.75,-7.75,1,0,0],[18,-7.75,1,1,0],[18.25,-7.75,1,0,0],[18.5,-7.75,1,1,0],[17.05,-7.95,1,1,0],[17.5,-8,.5,0,0],[17.75,-8,.5,0,0],[18,-8,.5,0,0],[18.25,-8,.5,1,0],[18.55,-8,.5,1,0],[17.75,-8.25,.5,0,0],[18,-8.25,.5,0,0],[18.25,-8.25,.5,0,0],[18.5,-8.25,.5,1,0],[18.8,-8.25,.5,1,0],[18.1,-8.5,.5,1,0],[18.35,-8.5,.5,0,0],[18.5,-8.5,.5,0,0],[18.45,-8.7,.5,0,0]
];
const backboneLeftX = [7.35,6,5,3.7,2.7,1.7,1,-.6,-2.5,-4,-5.2,-6.2,-7,-7.6];
const backboneLeftY = [2.93,3.02,3.05,2.95,2.6,2.15,1.95,1.45,.5,-.2,-1.1,-2,-3,-4.4];
const backboneRightX = [7.35,9.59,12.47,14.24,18.2];
const backboneRightY = [2.93,.95,-1.97,-3.73,-7.8];
const backboneUpX = [7.35,7.3];
const backboneUpY = [2.93,3.85];
const branchNodeX = 7.35;
const branchNodeY = 2.93;
const xTicks = [0,10,20];
const yTicks = [5,0,-5];
const pseudotimeTicks = [30,20,10,0];

/* ---------- heatmap E: z-scores at pseudotime fractions ---------- */
const eKnots = [0,.08,.14,.2,.27,.33,.4,.47,.54,.61,.68,.76,.88,1];
const eC1Genes = ["CRABP2","S100A4","S100A9","C1QA","C1QB","ISG15","PTPRC","CD52","LAPTM5","SH3BGRL3"];
const eC2Genes = ["IFI6","CTSS","S100A11","LDLRAD1","DCDC2B","CFAP126","SPAG17","ERICH3","FAM183A","PIFO","UBXN11","DNALI1","UFC1","HSPB11","ODF2L","NUDC","C1orf194","HIPK1","LRRC71","FHAD1","WDR63","TEKT2","WDR78","TTLL10","CFAP45","TCTEX1D4","RIIAD1","TCTEX1D1","C1orf87","OSCP1","CFAP57","CCDC17","TSPAN1","CCDC30","CD164L2"];
const eC3Genes = ["PIGR","SELENBP1","JUN","CYR61","CD55","ATP1A1","ATF3","MUC1","C4BPA","ALPL","HSPA6","ERRFI1","RGS16","SLC1A7","FMO5"];
const eC1Values = [
[-.6,-.6,-.6,-.6,-.4,.1,1,1.9,1.9,1.2,.05,-.5,-.6,-.6],
[-1.9,-1.1,-.6,-.2,.5,.9,1.1,1.1,1.1,.9,.3,-.4,-.8,-1.1],
[-1.2,-1.1,-1,-.7,-.1,.6,1,1.4,1.4,1.1,.8,-.2,-.6,-.7],
[-.7,-.8,-.5,.1,.7,.9,1.2,1.3,1.2,1,.6,-.8,-1,-1.1],
[-.7,-.8,-.6,.1,.7,.9,1.3,1.5,1.2,1,.7,-.8,-1,-1.1],
[-.3,-.1,.1,.6,.8,.9,1,1,1,1,.5,-.6,-1.2,-1.7],
[-.8,-.8,-.6,0,.6,.9,1.2,1.4,1.3,1.2,.7,-.9,-1,-1.2],
[-.9,-.8,-.5,.1,.7,.9,1.3,1.5,1.4,1.2,.7,-.9,-1.1,-1.2],
[-.8,-.7,-.5,.2,.6,.8,1.1,1.3,1.2,1.1,.4,-.6,-1,-1.2],
[-1.3,-.8,-.3,.2,.8,.9,1.1,1.3,1.3,1.1,.7,-.1,-.9,-1.3]];
const eC2Values = [
[1.1,1.1,1,1,1,.9,.7,.4,.2,-.3,-.7,-1,-1.1,-.9],
[1.5,1.3,1.1,1,1,.8,.6,.3,-.1,-.5,-.9,-1.1,-1.1,-1.1],
[.1,.4,.7,.8,.9,.9,.9,.8,.7,.5,.1,-.4,-1.1,-2],
[2,2,1.3,.8,.5,.1,-.2,-.4,-.5,-.5,-.5,-.5,-.5,-.6],
[2,2,1.4,.9,.5,.1,-.3,-.5,-.5,-.5,-.5,-.5,-.5,-.5],
[2,2,1.3,.9,.5,.1,-.3,-.5,-.5,-.5,-.5,-.5,-.6,-.6],
[2,2,1.4,.9,.5,.1,-.3,-.4,-.5,-.5,-.5,-.5,-.5,-.6],
[2,2,1.4,1,.6,.2,-.2,-.4,-.5,-.5,-.5,-.6,-.6,-.6],
[2,2,1.5,1,.6,.3,-.1,-.4,-.5,-.6,-.6,-.6,-.6,-.6],
[2,2,1.5,1,.7,.3,-.1,-.4,-.6,-.6,-.6,-.6,-.6,-.7],
[2,2,1.5,1,.6,.3,-.1,-.4,-.6,-.7,-.7,-.7,-.7,-.7],
[2,2,1.5,1,.7,.3,0,-.3,-.5,-.6,-.7,-.7,-.7,-.7],
[2,1.8,1.4,1,.7,.4,.1,-.3,-.5,-.5,-.5,-.6,-.8,-1.3],
[2,1.9,1.5,1,.6,.3,.1,-.3,-.4,-.4,-.4,-.5,-.6,-.7],
[2,2,1.5,1,.7,.4,.1,-.3,-.5,-.7,-.8,-.9,-.9,-.9],
[2,2,1.5,1.1,.7,.5,.1,-.4,-.6,-.7,-.8,-.9,-.9,-1],
[2,1.9,1.4,1,.7,.4,.05,-.3,-.5,-.6,-.7,-.7,-.7,-.7],
[2,1.8,1.2,.9,.7,.4,.1,-.4,-.7,-.8,-1,-1,-1,-.9],
[2,2,1.3,.8,.4,.05,-.3,-.4,-.5,-.5,-.5,-.5,-.5,-.6],
[2,2,1.3,.8,.4,0,-.3,-.4,-.5,-.5,-.5,-.5,-.5,-.6],
[2,2,1.4,.8,.4,-.05,-.3,-.4,-.5,-.5,-.5,-.5,-.5,-.5],
[2,2,1.4,.8,.4,-.1,-.3,-.4,-.5,-.5,-.5,-.5,-.5,-.5],
[2,2,1.4,.8,.4,-.05,-.3,-.4,-.4,-.5,-.5,-.5,-.5,-.5],
[2,2,1.4,.8,.3,-.1,-.3,-.4,-.4,-.4,-.5,-.5,-.5,-.5],
[2,2,1.3,.8,.3,-.1,-.3,-.4,-.4,-.4,-.5,-.5,-.5,-.5],
[2,2,1.3,.7,.2,-.1,-.3,-.4,-.4,-.4,-.5,-.5,-.5,-.5],
[2,2,1.3,.7,.2,-.1,-.3,-.4,-.4,-.4,-.4,-.5,-.5,-.5],
[2,2,1.3,.7,.15,-.1,-.3,-.4,-.4,-.4,-.4,-.5,-.5,-.5],
[2,2,1.2,.7,.1,-.1,-.3,-.4,-.4,-.4,-.4,-.4,-.4,-.4],
[2,2,1.2,.6,.1,-.1,-.3,-.4,-.4,-.4,-.4,-.4,-.4,-.4],
[2,2,1.2,.6,.05,-.15,-.3,-.4,-.4,-.4,-.4,-.4,-.4,-.4],
[2,2,1.2,.6,0,-.15,-.3,-.35,-.4,-.4,-.4,-.4,-.4,-.4],
[2,1.9,1.3,.7,-.2,-.4,-.5,-.6,-.6,-.5,-.4,-.25,-.2,-.15],
[2,2,.7,.5,0,-.2,-.3,-.3,-.3,-.3,-.3,-.3,-.3,-.3],
[2,2,.7,.4,-.05,-.2,-.25,-.3,-.3,-.3,-.3,-.3,-.3,-.3]];
const eC3Values = [
[0,-.3,-.6,-.8,-.9,-1,-1,-1,-.9,-.3,.6,1.3,1.6,1],
[0,-.1,-.5,-.6,-.8,-.8,-.9,-.9,-.8,-.6,-.05,.8,1.7,1.5],
[.7,.5,-.05,-.3,-.5,-.8,-1,-1.1,-.9,-.7,-.1,.6,1.2,1.9],
[.7,.6,0,-.3,-.5,-.8,-1,-1.1,-1,-.8,-.1,.7,1.2,1.7],
[.05,-.2,-.4,-.5,-.6,-.7,-.7,-.7,-.6,-.5,-.4,.3,1,2],
[.2,.1,-.3,-.5,-.7,-.9,-.9,-.9,-.8,-.5,-.1,.7,1.3,1.8],
[.2,.1,-.3,-.5,-.6,-.9,-.9,-.9,-.9,-.6,-.1,.8,1.5,2],
[-.9,-.9,-.9,-.9,-.9,-.9,-.8,-.7,-.5,-.05,.7,.9,1.1,1],
[-1,-1,-.9,-.9,-.9,-.8,-.7,-.6,-.5,-.1,.7,1,1.2,1.2],
[-1,-1,-1,-1,-.9,-.7,-.7,-.6,-.4,-.1,.6,1,1.3,1.4],
[-1.3,-1.2,-1.1,-.9,-.7,-.6,-.4,-.2,.1,.6,.7,.9,1.1,1.2],
[-.7,-.7,-.7,-.7,-.7,-.7,-.6,-.5,-.2,0,.3,.7,1.2,2],
[-1,-1,-.9,-.8,-.7,-.6,-.5,-.3,-.2,.1,.5,.9,1.4,1.7],
[-.7,-.7,-.7,-.7,-.7,-.6,-.6,-.5,-.4,-.2,.4,1.2,1.9,1.4],
[-.5,-.6,-.6,-.6,-.6,-.6,-.5,-.5,-.4,-.2,.1,.8,1.5,2]];

/* ---------- heatmap F: z-scores at branch fractions ---------- */
const fKnots = [0,.08,.17,.27,.37,.47,.57,.67,.77,.86,.93,1];
const fC1Genes = ["JCHAIN","C1QB","C1QA","CCL20","HEBP2","IGFBP3","STMN1","TUBB","CRABP2","SEC61G","RPS7","HLA−C","H2AFZ","ARL4C","IL7R","FYN","CD2"];
const fC1GeneRows = [1,2,3,6,9,13,15,19,22,23,30,31,34,40,49,56,61];
const fC2Genes = ["SLC34A2","JUN","RHOB","DUSP1","PIGR","CITED2"];
const fC2GeneRows = [1,5,6,8,9,21];
const fC3Genes = ["ELF3","AGR3"];
const fC3GeneRows = [0,1];
const fC1Branch1 = [
[-1.3,-1.2,-1.1,-.6,.2,.4,.5,.4,.05,-.4,-.7,-.9],[-.9,-1,-1.1,-1,-.1,.3,.5,.6,.5,-.05,-.4,-.6],[-1.2,-1.2,-1.2,-1,-.2,.3,.5,.4,-.1,-.6,-.8,-1],[-1.1,-1.2,-1.2,-.9,0,.4,.6,.5,-.1,-.7,-.8,-1],[-1.4,-1.4,-1.3,-.8,.4,.7,.9,.7,0,-.7,-.9,-1.1],
[-1.1,-1,-.9,-.5,.1,.3,.3,.2,-.3,-.7,-.9,-1],[-1.9,-1.3,-1,-.3,.4,.7,.7,.6,-.1,-.5,-.9,-1.2],[-1.9,-1.8,-.8,-.6,-.4,-.2,0,.3,.5,.6,.6,.7],[-2,-2,-1.9,-1.2,-.7,-.2,.2,.5,.6,.6,.7,.7],[-2,-1.9,-1.2,-.8,-.4,.1,.3,.4,.4,.2,.1,-.1],
[-2,-2,-1.1,-.6,-.3,.2,.4,.4,.3,-.1,-.4,-.5],[-1.4,-1.4,-1.2,-.9,-.5,0,.3,.3,.2,-.1,-.3,-.4],[-2,-2,-1.6,-1.1,-.6,-.1,.5,.8,.9,1,1,.9],[-.7,-.7,-.7,-.7,.1,.5,.5,.1,-.5,-.7,-.7,-.7],[-1.2,-1.2,-1,-.7,0,.3,.3,.2,-.1,-.5,-.6,-.7],
[-.6,-.8,-.8,-.5,-.3,-.1,-.1,-.1,-.4,-.7,-.8,-.9],[-.6,-.7,-.7,-.6,-.3,0,.1,-.1,-.5,-.7,-.7,-.7],[-1.2,-1.2,-1,-.7,-.3,-.2,-.2,-.3,-.3,-.3,-.4,-.4],[-.3,-.3,-.3,.1,.3,.3,.3,0,-.4,-.8,-1.1,-1.6],[-.4,-.6,-.6,-.3,.1,.3,.3,.1,-.4,-.7,-.8,-1.1],
[-.6,-1,-.8,-.2,.4,.7,.7,.6,-.1,-.7,-1,-1.9],[-.7,-.7,-.8,.1,.6,.7,.7,.5,-.1,-.6,-1.1,-2],[-.5,-.6,-.6,-.4,.1,.3,.3,.1,-.5,-.6,-.7,-.7],[-.3,-.2,-.1,.1,.2,.3,.3,.2,-.1,-.5,-.8,-.9],[-.7,-.9,-.8,-.2,1.2,1.8,1.7,1,0,-.7,-1.1,-1.2],
[-1.3,-1.1,-.9,-.4,.2,.3,.3,.1,-.2,-.6,-.8,-.9],[-1.2,-1.1,-1,-.3,.4,.5,.5,.3,-.5,-.7,-.8,-.9],[-2,-1.1,-.6,-.2,.3,.4,.4,.3,-.2,-.6,-.8,-1],[-.6,-.1,.1,.4,.6,.6,.5,.3,-.3,-.7,-1.1,-2],[-2,-1,-.5,0,.3,.4,.4,.3,-.2,-.5,-.7,-.9],
[-1.6,-.5,0,.3,.3,.3,.4,.3,.1,-.5,-.7,-1.1],[-1.7,-1.8,-1.4,-.8,-.1,.2,.2,.3,.1,-.1,-.3,-.5],[-1.8,-1.7,-1.3,-.6,0,.2,.3,.3,0,-.2,-.5,-.6],[-1.9,-1,-.6,-.4,-.2,-.1,-.1,-.1,-.2,-.4,-.5,-.5],[-.8,-.7,-.5,-.2,0,.1,.1,-.1,-.4,-.8,-1,-1],
[-1.9,-1.3,-.8,-.2,.4,.4,.3,.2,0,-.4,-.7,-.9],[-.9,-.9,-.8,-.7,-.2,.2,.2,.1,-.3,-.5,-.6,-.6],[-1.2,-1.2,-1,-.7,.1,.4,.5,.4,-.3,-.8,-1,-1.1],[-1.6,-1.4,-1.2,-.6,.5,.7,.8,.6,-.2,-.8,-1,-1.2],[-1,-1.2,-1.1,-.7,.1,.5,.5,.5,-.1,-.7,-1,-1.1],
[-1,-1.1,-1.2,-.9,0,.5,.6,.5,0,-.7,-.9,-1],[-1.1,-1.1,-1.1,-.7,.1,.5,.5,.4,0,-.6,-.9,-1],[-.7,-.7,-.5,.1,.6,.7,.7,.5,-.2,-1,-1.2,-1.7],[-2,-1.5,-.9,-.2,.6,.7,.7,.6,0,-.3,-.7,-.9],[-1.4,-1.2,-.9,-.1,.4,.5,.5,.4,-.2,-.5,-.8,-1],
[-1,-1.9,-1.5,-.7,-.1,.3,.3,.3,.1,-.3,-.4,-.5],[-1.6,-1.6,-1.1,-.6,.1,.2,.3,.2,0,-.2,-.3,-.4],[-1.3,-1.2,-1,-.5,.3,.6,.6,.5,-.1,-.8,-.9,-1],[-1.1,-1.1,-1,-.5,.2,.6,.7,.5,-.1,-.5,-.7,-.8],[-1.1,-1.2,-1,-.3,.3,.4,.4,.3,-.1,-.6,-.8,-.9],
[-1,-1,-.9,-.2,.6,.8,.8,.4,-.1,-.8,-1,-1.1],[-.9,-.9,-.8,-.7,.1,.3,.4,.3,-.1,-.5,-.6,-.6],[-.9,-.9,-.8,-.7,.1,.3,.3,.2,-.1,-.5,-.6,-.7],[-1.5,-1.2,-.3,.2,.7,.8,.8,.7,0,-.7,-1,-1.1],[-1,-1,-.8,-.3,.3,.4,.4,.3,-.1,-.6,-.8,-.9],
[-1.6,-1.4,-.9,-.4,.1,.3,.4,.3,.3,0,-.1,-.1],[-.9,-.9,-.8,-.6,.1,.2,.3,.2,-.1,-.4,-.5,-.6],[-.8,-.8,-.8,-.5,.2,.3,.3,.1,-.3,-.7,-.7,-.8],[-.8,-.8,-.7,-.5,.1,.2,.3,.1,-.4,-.6,-.7,-.7],[-.7,-.7,-.7,-.6,-.1,.2,.2,.1,-.3,-.5,-.5,-.6],
[-.5,-.5,-.4,-.2,.2,.3,.3,.2,-.2,-.5,-.6,-.6],[-.6,-.6,-.6,-.4,0,.2,.3,.2,-.2,-.3,-.4,-.4],[-.5,-.5,-.6,-.6,-.1,.05,.05,0,-.2,-.5,-.5,-.5],[-.5,-.5,-.5,-.5,-.3,.1,.2,.1,-.2,-.4,-.5,-.5],[-.2,-.2,-.2,-.2,-.2,-.2,-.2,-.2,-.2,-.2,-.2,-.2]];
const fC1Branch2 = [
[-1.5,-.9,-.3,.4,.9,1.4,1.7,1.3,.8,-.1,-.6,-1.6],[-.9,-.5,-.1,.5,1.2,1.5,1.6,1.2,.6,-.3,-1,-1.2],[-1.1,-1,-.4,.3,1,1.7,1.8,1.2,.6,.5,.6,1.4],[-1.1,-1,-.5,.2,1,1.6,1.7,1.2,.7,.6,.7,1],[-1.1,-.8,-.4,.2,1.1,1.7,1.7,1.1,.6,.5,.5,.8],
[-1,-.9,-.5,.1,.5,1.1,1.2,1.8,1.7,1.3,.6,0],[-.8,-.6,-.4,.2,.6,1,1.3,1.5,1.3,.9,.4,0],[1,.5,.2,-.2,-.3,-.4,-.1,.8,2,2,.1,-.8],[.5,.5,.4,.4,.4,.5,.5,.6,.7,.9,1,1],[0,-.1,-.2,-.2,-.2,0,.3,.9,2,2,.2,-.1],
[-.4,-.4,-.2,.3,.5,.7,.8,1.1,1.2,1.2,1,.9],[-.3,-.3,-.2,0,.3,.5,.7,.9,1.6,1.9,1.8,1.6],[1.1,.8,.4,.3,.3,.4,.5,.5,.4,0,-1,-2],[-.6,-.6,-.5,-.4,-.2,.3,.8,2,2,.4,0,-.6],[-.4,-.4,-.3,-.3,-.2,.1,.4,.8,2,2,1.7,.6],
[-.9,-.7,-.5,-.2,.3,.6,1,1.6,2,2,1.5,.9],[-.7,-.6,-.5,-.3,.2,.6,1,1.7,2,2,1.1,.4],[-.7,-.7,-.6,-.4,.3,.6,.8,1.3,2,2,1.5,.9],[-1.5,-1.2,-.9,-.4,.2,.5,.8,1.2,2,2,1.5,1],[-1,-1,-.8,-.6,.2,1,1.2,1.7,1.9,1.9,1.1,.3],
[-1,-.9,-.7,-.5,0,.4,.8,1.2,1.8,1.9,1.3,.4],[-2,-1.1,-.6,-.1,.7,.9,1,1.1,1.1,1.1,1.1,1.1],[-.7,-.7,-.7,-.7,-.3,.1,.6,1.6,2,2,1.3,.5],[-.8,-.8,-.8,-.8,-.5,0,.4,1.1,2,2,1.5,0],[-1,-.9,-.8,-.7,-.5,0,.4,.6,.9,1.2,1.3,1.2],
[-1.1,-.8,-.5,0,.5,.7,.9,1.2,1.6,1.8,1.9,1.9],[-.9,-.7,-.5,-.1,.5,.6,.8,1,1.2,1.5,2,2],[-1.4,-.8,-.3,.2,.5,.6,.8,1,1,1.1,1.9,2],[-2,-1.5,-.6,0,.4,.7,.8,.7,.6,.5,1.3,2],[-1.2,-.8,-.4,.1,.4,.5,.6,.6,.5,.4,1,2],
[-1.1,-.8,-.5,-.1,.4,.5,.6,.6,.6,.6,.9,2],[-.6,-.4,-.1,.5,.9,1,1.1,1.1,1,.8,.7,1.5],[-.6,-.5,-.2,.5,.7,.8,.9,1,.9,.9,1.1,2],[-.6,-.4,-.2,.3,.5,.6,.8,1,1.1,1.4,1.9,2],[-1.5,-.8,-.3,0,.6,1,1,1,1,1,1.2,2],
[-1,-.8,-.4,0,.6,.7,.7,.8,.8,.8,1,2],[-.6,-.5,-.3,-.1,.4,.5,.5,.5,.5,.6,.9,2],[-1,-.9,-.6,.1,.7,1.2,1.5,1.2,.8,.6,.6,2],[-1.1,-.9,-.5,.5,.9,1.1,1.3,1,.7,.3,.3,2],[-1.2,-1,-.6,.4,.8,1.1,1.3,.9,.4,.1,.3,2],
[-1.1,-1,-.6,.4,.9,1.2,1.3,.9,.4,.1,.2,2],[-1,-.9,-.6,.4,1,1.3,1.3,.8,.4,.2,.2,2],[-1.6,-1,-.4,.3,.7,.8,.9,.8,.6,.4,.3,2],[-1,-.8,-.3,.4,.7,.9,.8,.7,.4,.2,.4,2],[-1,-.8,-.3,.3,.7,.8,.8,.7,.4,.3,.5,2],
[-.8,-.4,.2,.7,.9,1.1,1,.8,.5,.3,.4,2],[-.6,-.3,.1,.6,.8,.9,.8,.6,.1,-.2,.1,2],[-1.1,-.7,-.2,.4,.7,.9,.9,.8,.5,.3,.5,2],[-.8,-.7,-.4,.3,.6,.9,.9,.6,.4,.3,.5,2],[-.8,-.7,-.4,.2,.6,.9,1,.7,.6,.6,.6,2],
[-.9,-.8,-.6,0,.4,.6,.7,.5,.2,0,.2,2],[-.7,-.6,-.5,-.1,.7,1,1.1,.9,.2,0,.1,2],[-.6,-.5,-.5,0,.6,.9,1,.8,.1,-.1,.2,2],[-.6,-.5,-.3,.2,.3,.4,.4,.3,0,-.1,.3,2],[-.7,-.6,-.4,.1,.4,.5,.5,.4,.3,.2,.6,2],
[-.1,0,.1,.2,.3,.3,.3,.2,-.1,0,.4,2],[-.6,-.4,-.1,.2,.4,.4,.4,.3,.2,.1,.4,2],[-.6,-.5,-.4,.1,.5,.7,.7,.5,.1,-.1,.2,2],[-.6,-.5,-.3,.1,.4,.5,.5,.4,.1,-.1,.2,2],[-.6,-.5,-.2,.1,.5,.6,.6,.4,0,-.1,.2,2],
[-.4,-.4,-.2,0,.1,.2,.2,.2,-.1,-.1,.3,2],[-.4,-.3,-.2,0,.1,.1,.1,.1,-.1,-.1,.3,2],[-.4,-.4,-.2,.05,.2,.3,.3,.2,-.1,-.1,.2,2],[-.5,-.5,-.3,-.05,.2,.2,.2,.1,-.1,-.1,.2,2],[-.2,-.2,-.2,-.2,-.2,-.2,-.2,-.1,-.05,0,.3,2]];
const fC2Branch1 = [
[1.9,1.4,1.1,.7,.4,.2,-.05,-.1,-.1,0,.1,.1],[1.7,1.8,1.2,.9,.6,.3,.1,0,0,.1,.2,.3],[2,1.9,1.1,.9,.5,.4,.2,0,-.3,-.3,-.3,-.3],[.9,.8,.7,.6,.5,.3,.1,0,0,0,-.1,-.1],[2,1.9,1.2,.6,.5,.3,.1,0,0,-.05,0,0],
[1.9,1.3,1,.7,.5,.4,.3,.2,.2,.2,.3,.4],[1.5,1.5,1.2,.8,.4,.1,0,0,.1,.3,.5,.7],[1.9,1.8,1.2,.7,.3,0,-.2,-.2,-.1,.1,.4,.9],[2,2,1.5,1,.5,.2,-.1,-.2,-.2,-.2,-.1,0],[.9,2,2,1.4,.8,.3,-.1,-.3,-.2,-.2,-.1,0],
[2,2,1.9,1.1,.6,.2,-.2,-.3,-.3,-.1,.1,.3],[2,2,1.1,.7,.4,.2,0,-.1,0,.1,.3,.5],[2,2,.9,.6,.4,.3,.1,0,0,.05,.1,.1],[1.2,1.2,1.1,.9,.6,.4,.1,-.2,-.3,-.3,-.3,-.3],[0,.6,1.8,1.9,1.4,.8,.3,-.1,-.4,-.7,-.9,-1],
[0,.3,2,2,2,1.2,.4,-.2,-.6,-.7,-.7,-.7],[1.7,1.6,1.5,1.3,1,.7,.3,-.3,-.7,-1,-1.3,-1.3],[1.2,1.9,1.9,1.5,1.1,.6,.1,-.6,-.9,-1.1,-1.2,-1.2],[1.5,1.5,1.4,1.2,.9,.5,.1,-.4,-.7,-1,-1.2,-1.5],[1.5,1.5,1.4,1.2,.9,.5,0,-.3,-.7,-1.1,-1.4,-1.5],
[2,1.8,1.5,1.3,1,.7,-.1,-.7,-.8,-.9,-1,-1],[2,2,1.9,.9,.4,.2,-.3,-.4,-.5,-.6,-.6,-.6],[2,2,1.2,.7,.3,0,-.2,-.4,-.5,-.5,-.6,-.6],[2,2,1.5,1,.7,.3,-.2,-.5,-.7,-.8,-.7,-.7],[2,2,1.6,1.2,.8,.3,-.3,-.6,-.8,-.9,-1,-1],
[2,2,1.6,1.1,.6,.2,-.2,-.5,-.6,-.8,-.9,-1],[2,2,1.9,.9,.6,.3,-.1,-.4,-.6,-.7,-.7,-.7],[1.3,1.9,1.6,1.1,.7,.3,.1,-.1,-.4,-.5,-.6,-.6],[2,1.9,1.1,.9,.6,.4,.05,-.2,-.4,-.5,-.7,-.7],[2,2,1.7,1,.6,.2,-.1,-.3,-.5,-.6,-.7,-.7],
[2,2,1.5,.9,.5,.2,-.2,-.3,-.3,-.4,-.5,-.5]];
const fC2Branch2 = [
[.2,.1,-.2,-.2,-.3,-.3,-.2,-.1,.2,-.5,-2,-2],[.7,.5,-.1,-.4,-.7,-.7,-.5,-.3,-.1,-.5,-2,-2],[0,-.1,-.3,-.5,-.6,-.6,-.4,-.2,-.1,-.3,-2,-2],[-.05,0,.1,.2,.2,.2,.1,-.1,-.4,-1.4,-2,-2],[.05,.05,.1,.05,0,0,-.1,-.3,-.7,-1.5,-2,-2],
[.5,.5,.4,.1,0,-.1,-.3,-.5,-.8,-1.5,-2,-2],[.7,.6,.3,-.2,-.3,-.3,-.4,-.5,-.6,-1,-2,-2],[.6,.6,.4,-.1,-.2,-.3,-.3,-.3,-.2,-.8,-2,-2],[.1,.05,-.1,-.2,-.3,-.4,-.5,-.6,-.7,-1.2,-2,-2],[.1,.05,-.1,-.2,-.3,-.4,-.4,-.4,-.5,-1.2,-2,-2],
[1,.5,-.3,-.7,-.9,-.9,-.9,-.7,-.5,-.6,-.7,-1.1],[.6,.5,-.2,-.5,-.7,-.8,-.9,-.9,-.9,-.9,-1,-1.6],[.4,.3,-.2,-.5,-.7,-.8,-.8,-.8,-.8,-.9,-1,-1.4],[-1.2,-.8,-.3,.4,.7,.8,.8,.7,.1,-.8,-2,-2],[-.7,-.6,-.5,-.4,-.2,.05,.2,.3,.3,-.3,-1.5,-2],
[-.6,-.6,-.6,-.6,-.6,-.6,-.5,-.5,-.5,-.5,-.5,-.5],[-1.2,-1.1,-.8,-.5,-.2,-.1,.05,.3,.3,.2,.2,-.4],[-1,-.9,-.9,-.7,-.5,-.2,.1,.6,.7,.7,.6,-.3],[-1.4,-1.1,-.7,-.2,0,.1,.3,.4,.2,-.1,-.9,-1.9],[-1.5,-1.3,-.7,-.3,0,.5,.6,.6,.5,-.2,-.5,-1.2],
[-.9,-.9,-.7,-.5,-.2,-.05,.3,.4,.4,-.2,-.7,-.9],[-.3,-.3,-.4,-.5,-.5,-.5,-.5,-.5,-.5,-.7,-.8,-1],[-.5,-.5,-.5,-.5,-.5,-.5,-.5,-.5,-.5,-.5,-.5,-.7],[-.1,-.3,-.7,-.9,-.9,-.9,-.8,-.4,-.3,-.2,-.2,-.7],[-.9,-.9,-.8,-.7,-.5,-.3,-.3,-.3,-.3,-.3,-.3,-.3],
[-.9,-.9,-.8,-.7,-.5,-.2,-.2,-.3,-.4,-.6,-.7,-.8],[-.8,-.7,-.7,-.6,-.5,-.3,-.3,-.2,-.2,-.3,-.5,-.8],[-.2,-.3,-.5,-.7,-.7,-.6,-.1,.7,.9,.1,-1.8,-2],[-.4,-.4,-.4,-.3,-.2,-.1,0,.2,.2,-.2,-.8,-1.8],[-.6,-.6,-.5,-.4,-.3,-.1,0,.2,.1,-.1,-.5,-1.3],
[-.1,-.2,-.3,-.3,-.4,-.4,-.3,-.3,-.2,-.4,-.8,-1.5]];
const fC3Branch1 = [[1.6,1.1,.5,.2,-.1,-.3,-.2,-.2,.2,.6,1,1.5],[0,.4,.6,.5,-.1,-.2,-.2,-.2,.3,.8,1.2,1.9],[0,.5,.7,.5,-.05,-.3,-.3,-.2,.3,.9,1.4,2],[.1,.1,-.1,-.4,-.5,-.3,-.2,0,.3,.9,1.5,2]];
const fC3Branch2 = [[1.5,1.2,.6,.2,-.1,-.2,-.3,-.3,-.4,-.9,-2,-2],[2,1.7,.9,.2,-.5,-.7,-.9,-1,-1,-1.1,-1.9,-2],[2,1.7,.9,.1,-.6,-.8,-1,-1.1,-1.1,-1.1,-1.3,-1.3],[2,1.6,.8,.2,-.2,-.5,-.6,-.6,-.7,-1.1,-2,-2]];

/* ---------- cluster trend curves: position within inset (0..1) ---------- */
const trendEC1X = [.1,.22,.34,.46,.56,.68,.8,.9];
const trendEC1Y = [.74,.62,.41,.35,.46,.68,.76,.78];
const trendEC2X = [.1,.21,.33,.48,.9];
const trendEC2Y = [.11,.39,.55,.64,.67];
const trendEC3X = [.1,.37,.6,.71,.82,.9];
const trendEC3Y = [.67,.69,.59,.37,.29,.28];
const trendFC1X = [.1,.22,.31,.4,.51,.61,.72,.83,.9];
const trendFC1Y = [.7,.55,.45,.55,.65,.49,.37,.44,.07];
const trendFC2X = [.1,.26,.47,.61,.81,.9];
const trendFC2Y = [.19,.42,.55,.58,.52,.79];
const trendFC3X = [.1,.17,.31,.51,.61,.76,.9];
const trendFC3Y = [.47,.36,.52,.17,.45,.56,.77];
const goBarsC1 = [1,1.18,1,.38,.38];
const goBarsC2 = [.75,.38,1.18,.75,.75];
const goBarsC3 = [.75,.75,.75,.75,.75];

/* ---------- rendering ---------- */
const NS = 'http://www.w3.org/2000/svg';
const root = document.getElementById('figure');
const defs = root.querySelector('defs');
function make(tag, attrs, parent){
  const n = document.createElementNS(NS, tag);
  for (const k in attrs) n.setAttribute(k, attrs[k]);
  parent.appendChild(n);
  return n;
}
function hexRgb(h){return [parseInt(h.slice(1,3),16),parseInt(h.slice(3,5),16),parseInt(h.slice(5,7),16)];}
function ramp(stops, v){
  if (v <= stops[0][0]) return stops[0][1];
  for (let i = 1; i < stops.length; i++){
    if (v <= stops[i][0]){
      const f = (v - stops[i-1][0]) / (stops[i][0] - stops[i-1][0]);
      const a = hexRgb(stops[i-1][1]), b = hexRgb(stops[i][1]);
      return 'rgb(' + a.map((c,j)=>Math.round(c + (b[j]-c)*f)).join(',') + ')';
    }
  }
  return stops[stops.length-1][1];
}
const zStops = [[-2,'#00519f'],[-1,'#7c95c5'],[0,'#ffffff'],[1,'#ee8a78'],[2,'#b2161b']];
const pseudoStops = [[0,'#0a0210'],[3,'#1e1538'],[7,'#45296b'],[11,'#7a1c6e'],[13,'#8e1a6b'],[17,'#d93b52'],[21,'#f2633a'],[27,'#ffa000'],[31,'#fbd35f'],[34,'#f7f29c']];
const BLUE = '#033a80', MAROON = '#b23655', BRIGHT = '#f93034';

const panels = [
 {id:'a', x0:655,  y0:445,   left:172.5, right:1684, top:110,  bottom:859,  topW:3, botW:6, color:(c,s)=> s===1?BLUE:(s===2?MAROON:BRIGHT)},
 {id:'b', x0:2412, y0:447,   left:1930,  right:3443, top:119,  bottom:868,  topW:5, botW:6, color:(c)=> c[3]===0?MAROON:BLUE},
 {id:'c', x0:655,  y0:1387,  left:172.5, right:1684, top:1052, bottom:1801, topW:3, botW:6, color:(c)=> c[4]===0?BLUE:MAROON},
 {id:'d', x0:2412, y0:1380.5,left:1930,  right:3443, top:1051, bottom:1794, topW:4, botW:8, color:(c)=> ramp(pseudoStops,c[2])}
];
function xPos(p, v){ return p.x0 + v * 51.3; }
function yPos(p, v){ return p.y0 - v * 44.7; }
function linePath(p, xs, ys){ return xs.map((v,i)=>(i?'L':'M') + xPos(p,v).toFixed(1) + ',' + yPos(p,ys[i]).toFixed(1)).join(''); }

const scatterLayer = document.getElementById('scatterLayer');
panels.forEach(p=>{
  const g = make('g', {}, scatterLayer);
  
  
  const frame = make('rect', {x:p.left, y:p.top, width:p.right-p.left, height:p.bottom-p.top, fill:'#fff', stroke:'#000', 'stroke-width':2.5}, g);
  
  
  const topLine = make('line', {x1:p.left, x2:p.right, y1:p.top, y2:p.top, stroke:'#000', 'stroke-width':p.topW}, g);
  
  
  const yAxis = make('line', {x1:p.left, x2:p.left, y1:p.top-(p.id==='b'||p.id==='d'?7:0), y2:p.bottom+3, stroke:'#000', 'stroke-width':4}, g);
  
  
  const xAxis = make('line', {x1:p.left, x2:p.right, y1:p.bottom, y2:p.bottom, stroke:'#000', 'stroke-width':p.botW}, g);
  
  

  xTicks.forEach(t=>{
    const tk = make('line', {x1:xPos(p,t), x2:xPos(p,t), y1:p.bottom, y2:p.bottom+7, stroke:'#333', 'stroke-width':3}, g);
    
    
    const lb = make('text', {x:xPos(p,t), y:p.bottom+(p.botW>6?34:27), 'text-anchor':'middle', 'font-size':20, 'font-weight':'bold', 'font-style':'italic', fill:'#4a0a12'}, g);
    lb.textContent = String(t);
    
    
  });
  yTicks.forEach(t=>{
    const tk = make('line', {x1:p.left-6, x2:p.left, y1:yPos(p,t), y2:yPos(p,t), stroke:'#333', 'stroke-width':3}, g);
    
    
    const lb = make('text', {x:p.left-8, y:yPos(p,t)+7, 'text-anchor':'end', 'font-size':20, 'font-weight':'bold', 'font-style':'italic', fill:'#4a0a12'}, g);
    lb.textContent = String(t).replace('-','−');
    
    
  });
  const yt = make('text', {class:'axt', transform:'translate(' + (p.left-47) + ',' + (p.y0+38) + ') rotate(-90)'}, g);
  yt.textContent = 'Component 2';
  
  

  const b1 = make('path', {d:linePath(p, backboneLeftX, backboneLeftY), fill:'none', stroke:'#000', 'stroke-width':7}, g);
  
  
  const b2 = make('path', {d:linePath(p, backboneRightX, backboneRightY), fill:'none', stroke:'#000', 'stroke-width':6}, g);
  
  
  const b3 = make('path', {d:linePath(p, backboneUpX, backboneUpY), fill:'none', stroke:'#000', 'stroke-width':5}, g);
  
  

  [[1,state1Cells],[2,state2Cells],[3,state3Cells]].forEach(pair=>{
    const s = pair[0];
    pair[1].forEach(c=>{
      const dot = make('circle', {cx:xPos(p,c[0]).toFixed(1), cy:yPos(p,c[1]).toFixed(1), r:8, fill:p.color(c,s)}, g);
      
      
    });
  });
  const node = make('circle', {cx:xPos(p,branchNodeX), cy:yPos(p,branchNodeY), r:15, fill:'#000'}, g);
  
  
  const nodeT = make('text', {x:xPos(p,branchNodeX), y:yPos(p,branchNodeY)+8, 'text-anchor':'middle', 'font-size':22, fill:'#fff'}, g);
  nodeT.textContent = '1';
  
  
});

/* pseudotime colour bar (panel D) */
(function(){
  const leg = document.getElementById('pseudoLegend');
  const maxV = 34, top = 1469.5, bot = 1751;
  const yOf = v => bot - (bot-top) * v / maxV;
  const grad = make('linearGradient', {id:'pseudoBar', x1:0, x2:0, y1:0, y2:1}, defs);
  pseudoStops.slice().reverse().forEach(s=>{ make('stop', {offset:(1 - s[0]/maxV), 'stop-color':s[1]}, grad); });
  const bar = make('rect', {x:3278, y:top, width:39, height:bot-top, fill:'url(#pseudoBar)'}, leg);
  
  
  pseudotimeTicks.forEach(t=>{
    const y = yOf(t);
    const m1 = make('rect', {x:3278, y:y-3, width:8, height:5, fill:'#fff'}, leg);
    
    
    const m2 = make('rect', {x:3309, y:y-3, width:8, height:5, fill:'#fff'}, leg);
    
    
    const lb = make('text', {class:'leg', x:3331, y:Math.min(y,1745)+9}, leg);
    lb.textContent = String(t);
    
    
  });
})();

/* heatmaps */
let gradId = 0;
function drawBlock(parent, rows, knots, left, width, top, bottom, name){
  const h = (bottom - top) / rows.length;
  rows.forEach((vals, r)=>{
    const id = 'hm' + (gradId++);
    const grad = make('linearGradient', {id:id, gradientUnits:'userSpaceOnUse', x1:left, x2:left+width, y1:0, y2:0}, defs);
    vals.forEach((v,i)=>{ make('stop', {offset:knots[i], 'stop-color':ramp(zStops,v)}, grad); });
    const y0 = Math.round(top + r*h), y1 = Math.round(top + (r+1)*h);
    for (let i = 0; i < knots.length-1; i++){
      const x0 = left + knots[i]*width, x1 = left + knots[i+1]*width;
      const cell = make('rect', {x:x0.toFixed(2), y:y0, width:(x1-x0).toFixed(2), height:y1-y0, fill:'url(#'+id+')', 'shape-rendering':'crispEdges'}, parent);
      
      
    }
  });
  const fr = make('rect', {x:left, y:top, width:width, height:bottom-top, fill:'none', stroke:'#000', 'stroke-width':3.5}, parent);
  
  
}
const heatE = document.getElementById('heatE');
function geneLabelsE(genes, top, bottom, color){
  const h = (bottom-top)/genes.length;
  genes.forEach((g,i)=>{
    const y = top + (i+.5)*h;
    const tk = make('line', {x1:1116, x2:1135, y1:y, y2:y, stroke:'#000', 'stroke-width':3}, heatE);
    
    
    const t = make('text', {transform:'translate(1138,' + (y+6.5) + ') scale(.87,1)', 'font-size':17, 'font-style':'italic', fill:color}, heatE);
    t.textContent = g;
    
    
  });
}
drawBlock(heatE, eC1Values, eKnots, 279, 834, 2206, 2410, 'cluster-c1');
drawBlock(heatE, eC2Values, eKnots, 279, 834, 2412, 3124, 'cluster-c2');
drawBlock(heatE, eC3Values, eKnots, 279, 834, 3128, 3444, 'cluster-c3');
geneLabelsE(eC1Genes, 2206, 2410, '#d29fcb');
geneLabelsE(eC2Genes, 2412, 3124, '#c9dd6a');
geneLabelsE(eC3Genes, 3128, 3444, '#1465b5');

const heatF = document.getElementById('heatF');
function geneLabelsF(genes, rowsIdx, top, rowH, color){
  genes.forEach((g,i)=>{
    const y = top + (rowsIdx[i]+.5)*rowH;
    const tk = make('line', {x1:2185, x2:2204, y1:y, y2:y, stroke:'#000', 'stroke-width':3}, heatF);
    
    
    const t = make('text', {transform:'translate(2182,' + (y+6) + ') scale(.93,1)', 'font-size':16, 'font-style':'italic', 'text-anchor':'end', fill:color}, heatF);
    t.textContent = g;
    
    
  });
}
drawBlock(heatF, fC1Branch1, fKnots, 2207, 342, 2221, 3002, 'branch1-c1');
drawBlock(heatF, fC1Branch2, fKnots, 2553.5, 342, 2221, 3002, 'branch2-c1');
drawBlock(heatF, fC2Branch1, fKnots, 2207, 342, 3008, 3381, 'branch1-c2');
drawBlock(heatF, fC2Branch2, fKnots, 2553.5, 342, 3008, 3381, 'branch2-c2');
drawBlock(heatF, fC3Branch1, fKnots, 2207, 342, 3388, 3443, 'branch1-c3');
drawBlock(heatF, fC3Branch2, fKnots, 2553.5, 342, 3388, 3443, 'branch2-c3');
geneLabelsF(fC1Genes, fC1GeneRows, 2221, 781/65, '#8c9dd2');
geneLabelsF(fC2Genes, fC2GeneRows, 3008, 373/31, '#1a1a1a');
geneLabelsF(fC3Genes, fC3GeneRows, 3388, 55/4, '#9db8e2');

/* insets */
const mini = document.getElementById('miniLayer');
function inset(name, x, y, w, h, xs, ys, sizeText, bx, by, bw, bh, lx){
  const g = make('g', {}, mini);
  
  
  const r = make('rect', {x:x, y:y, width:w, height:h, fill:'#fff', stroke:'#000', 'stroke-width':3}, g);
  
  
  const pl = make('polyline', {points:xs.map((v,i)=>(x+v*w).toFixed(1)+','+(y+ys[i]*h).toFixed(1)).join(' '), fill:'none', stroke:'#e21f26', 'stroke-width':3.5, 'stroke-linejoin':'round'}, g);
  
  
  const bb = make('rect', {x:bx, y:by, width:bw, height:bh, fill:'#fff', stroke:'#000', 'stroke-width':3}, g);
  
  
  const t = make('text', {transform:'translate(' + (bx+bw/2) + ',' + (by+bh/2+5) + ') scale(.87,1)', 'font-size':14, 'font-style':'italic', 'text-anchor':'middle', fill:'#000'}, g);
  t.textContent = sizeText;
  
  
  const c = make('text', {transform:'translate(' + (lx+16) + ',' + (y+h/2) + ') rotate(-90)', 'font-size':22, 'text-anchor':'middle', fill:'#000'}, g);
  c.textContent = name.split('-')[1].toUpperCase();
  
  
}
inset('e-c1', 108, 2263, 146, 84, trendEC1X, trendEC1Y, 'Gene Size: 10', 138, 2269, 87, 22, 81);
inset('e-c2', 108, 2726, 146, 85, trendEC2X, trendEC2Y, 'Gene Size: 35', 138, 2733, 87, 22, 81);
inset('e-c3', 108, 3241, 146, 85, trendEC3X, trendEC3Y, 'Gene Size: 15', 138, 3248, 87, 22, 81);
inset('f-c1', 1948, 2568, 147, 84, trendFC1X, trendFC1Y, 'Gene Size: 65', 1977, 2575, 90, 21, 1920);
inset('f-c2', 1948, 3153, 147, 85, trendFC2X, trendFC2Y, 'Gene Size: 31', 1977, 3159, 90, 22, 1920);
inset('f-c3', 1948, 3350, 147, 94, trendFC3X, trendFC3Y, 'Gene Size: 4', 1982, 3357, 80, 20, 1920);

function goPanel(name, y, h, bars, color, by, bh){
  const g = make('g', {}, mini);
  
  
  const r = make('rect', {x:3363, y:y, width:148, height:h, fill:'#fff', stroke:'#000', 'stroke-width':3}, g);
  
  
  bars.forEach((v,i)=>{
    const yy = y + h*(.1 + .8*i/(bars.length-1));
    const b = make('line', {x1:3363, x2:3363 + v*112, y1:yy, y2:yy, stroke:color, 'stroke-width':4}, g);
    
    
  });
  const bb = make('rect', {x:3467, y:by, width:28, height:bh, fill:'#fff', stroke:'#000', 'stroke-width':3}, g);
  
  
  const t = make('text', {x:3481, y:by+bh/2+5, 'font-size':13, 'font-style':'italic', 'text-anchor':'middle', fill:color}, g);
  t.textContent = name.toUpperCase();
  
  
}
goPanel('c1', 2568, 84, goBarsC1, '#3db868', 2575, 21);
goPanel('c2', 3153, 85, goBarsC2, '#953684', 3160, 21);
goPanel('c3', 3350, 94, goBarsC3, '#5a84be', 3357, 21);
</script>
</body>
</html>
